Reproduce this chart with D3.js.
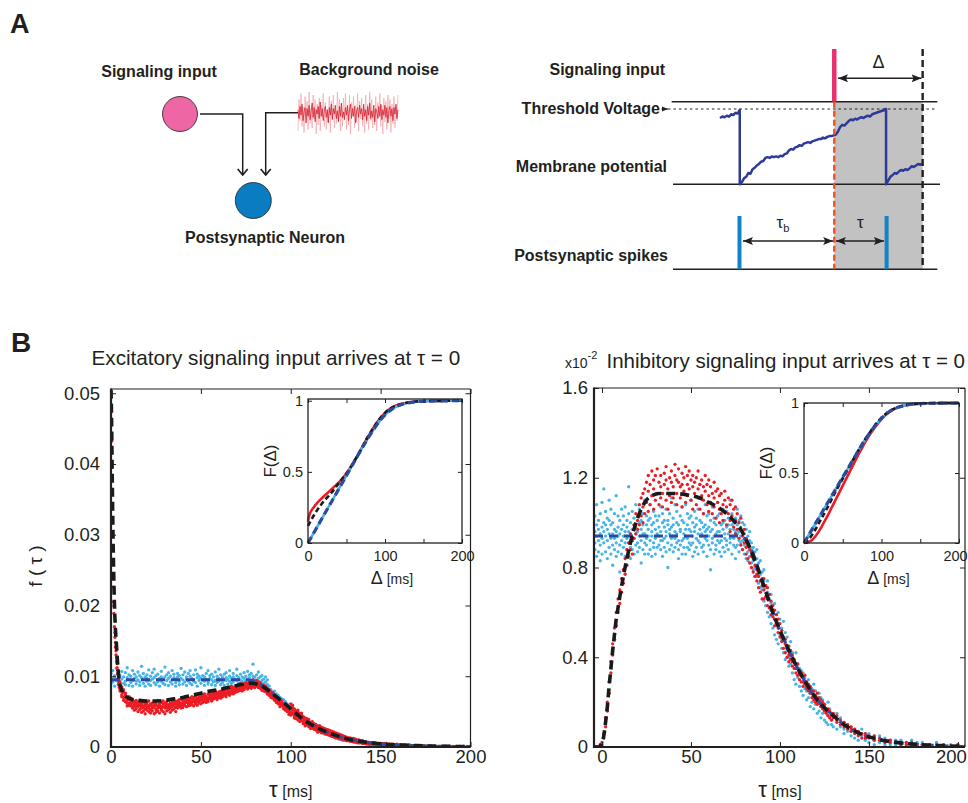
<!DOCTYPE html>
<html>
<head>
<meta charset="utf-8">
<script src="https://cdn.jsdelivr.net/npm/d3@7"></script>
<style>
  body { margin: 0; background: #fff; }
  svg { display: block; }
  svg text { font-family: "Liberation Sans", Arial, Helvetica, sans-serif; fill: #231f20; }
</style>
</head>
<body>
<svg id="fig" width="968" height="803"></svg>
<script>
// ================= DATA =================

// Panel A: background noise sample (arbitrary units)
const noiseCore = [0.3,-0.5,0.6,-0.2,0.8,-0.7,0.1,0.5,-0.9,0.4,-0.3,0.7,-0.6,0.2,0.9,-0.4,0.5,-0.8,0.3,-0.1,0.6,-0.5,1.0,-0.3,0.4,-0.7,0.2,0.6,-0.4,0.3,-0.9,0.5,-0.2,0.8,-0.6,0.4,-0.1,0.7,-0.5,0.2,-0.8,0.6,-0.3,0.9,-0.4,0.1,-0.6,0.5,-0.2,0.7,-0.7,0.3,0.8,-0.5,0.4,-0.3,0.6,-0.9,0.2,0.5,-0.4,0.7,-0.1,0.4,-0.6,0.8,-0.3,0.3,-0.7,0.6,-0.2,0.9,-0.5,0.2,-0.4,0.7,-0.8,0.4,0.1,-0.5,0.6,-0.3,0.8,-0.6,0.3,-0.2,0.7,-0.4,0.5,-0.9,0.2,0.6,-0.3,0.4,-0.7,0.5,-0.1,0.8,-0.5,0.3];
const noiseHalo = [-1.2,0.9,-0.5,1.3,-0.9,0.4,-1.3,1.1,-0.2,0.8,-1.1,1.4,-0.7,0.3,-1.0,1.2,-0.4,0.9,-1.4,0.6,-0.8,1.0,-1.2,0.5,-0.3,1.3,-0.9,0.7,-1.1,0.2,-0.6,1.1,-1.3,0.8,-0.4,1.2,-1.0,0.3,-0.7,1.4,-0.5,0.9,-1.2,0.6,-0.9,1.0,-0.3,1.3,-1.1,0.4,-0.8,1.2,-1.4,0.7,-0.2,1.1,-1.0,0.5,-0.6,1.3,-1.2,0.8,-0.4,1.0,-0.9,0.3,-1.3,1.2,-0.7,0.6,-1.1,1.4,-0.5,0.9,-1.0,0.2,-0.8,1.1,-1.2,0.7,-0.3,1.3,-0.9,0.5,-1.4,1.0,-0.6,0.8,-1.1,1.2,-0.4,0.9,-1.3,0.6,-0.7,1.1,-1.0,0.4,-0.5,1.2];

// Panel A: timing scheme (time in arbitrary ms, voltage 0 = reset, 1 = threshold)
const tSignal = 60.4, tWindowEnd = 93.5;
const spikeTimes = [24.9, 80.0];
const membrane = [[17.6,0.88],[18.5,0.9],[19.3,0.89],[20.2,0.91],[21,0.9],[21.8,0.93],[22.6,0.92],[23.4,0.95],[24.2,0.94],[25,0.99],[25,0],
 [25.8,0.03],[26.6,0.08],[27.4,0.1],[28.2,0.15],[29,0.14],[29.8,0.2],[30.6,0.22],[31.4,0.25],[32.2,0.27],[33,0.3],[33.8,0.31],[34.6,0.35],[35.4,0.36],[36.2,0.35],[37,0.37],[37.8,0.36],[38.6,0.37],[39.4,0.36],[40.2,0.38],[41,0.37],[41.8,0.4],[42.6,0.41],[43.4,0.45],[44.2,0.47],[45,0.46],[45.8,0.49],[46.6,0.5],[47.4,0.52],[48.2,0.51],[49,0.54],[49.8,0.55],[50.6,0.56],[51.4,0.55],[52.2,0.57],[53,0.58],[53.8,0.59],[54.6,0.6],[55.4,0.6],[56.2,0.62],[57,0.61],[57.8,0.63],[58.6,0.64],[59.4,0.64],[60.2,0.65],[61,0.66],[61.8,0.7],[62.6,0.76],[63.4,0.79],[64.2,0.78],[65,0.81],[65.8,0.84],[66.6,0.86],[67.4,0.85],[68.2,0.87],[69,0.86],[69.8,0.88],[70.6,0.89],[71.4,0.88],[72.2,0.9],[73,0.91],[73.8,0.9],[74.6,0.93],[75.4,0.94],[76.2,0.95],[77,0.96],[77.8,0.97],[78.6,0.98],[79.8,1.0],[79.8,0],
 [80.6,0.05],[81.4,0.1],[82.2,0.12],[83,0.15],[83.8,0.14],[84.6,0.17],[85.4,0.19],[86.2,0.18],[87,0.2],[87.8,0.19],[88.6,0.21],[89.4,0.24],[90.2,0.23],[91,0.25],[91.8,0.27],[92.6,0.26],[93.2,0.27]];

// Panel B, excitatory input: f(τ) in units of 1e-4; rows are [τ (ms), values...]
const excSimNoise = [
 [0,97,89,104],[1,92,108],[2,99,86,101],[3,94,111],[4,88,97,103],[5,101,92],[6,96,85,107],[7,90,99],[8,105,93,88],[9,98,112],
 [10,87,95,102],[11,100,91],[12,94,108,86],[13,97,103],[14,89,99,93],[15,106,95],[16,92,87,101],[17,98,114],[18,95,90,104],[19,86,99],
 [20,102,93,97],[21,109,89],[22,94,100,87],[23,96,105],[24,91,98,110],[25,88,101],[26,103,95,92],[27,97,86],[28,107,93,99],[29,90,96],
 [30,99,113,88],[31,94,102],[32,87,97,105],[33,100,92],[34,95,108,89],[35,98,103],[36,91,96,86],[37,104,99],[38,93,88,101],[39,97,111],
 [40,89,95,102],[41,106,92],[42,96,87,99],[43,93,104],[44,100,90,108],[45,88,97],[46,95,102,93],[47,109,91],[48,98,86,103],[49,94,100],
 [50,90,97,112],[51,101,95],[52,87,99,93],[53,104,96],[54,92,108,89],[55,97,101],[56,95,88,103],[57,99,92],[58,106,94,87],[59,91,100],
 [60,97,110,93],[61,88,102],[62,95,99,91],[63,103,87],[64,94,105,98],[65,89,96],[66,100,93,108],[67,97,90],[68,92,104,99],[69,96,87],
 [70,101,94,110],[71,90,98],[72,95,103,88],[73,99,93],[74,105,97,91],[75,94,100],[76,89,96,107],[77,98,102],[78,93,88,104],[79,100,96,117],
 [80,95,91,99],[81,102,88],[82,97,93,106],[83,91,99],[84,94,87,101],[85,96,90],[86,92,85,99],[87,88,95],
 [88,86,78],[89,81,74],[90,77,70],[91,79,72],[92,70,75],[93,73,66],[94,64,70],[95,68,61],[96,62,67],[97,58,64],[98,61,55],[99,56,51],
 [100,52,58],[101,55,48],[102,47,53],[103,50,44],[104,46,41],[105,43,48],[106,39,45],[107,42,36],[108,37,40],[109,33,38],
 [110,35,31],[111,30,34],[112,32,28],[113,27,31],[114,29,25],[115,26,30],[116,23,27],[117,25,21],[118,20,24],[119,22,18],
 [120,19,23],[121,21,17],[122,16,20],[123,18,15],[124,14,17],[125,16,13],[126,12,15],[127,14,11],[128,11,13],[129,12,9],
 [130,10,13],[132,9,11],[134,8,10],[136,7,9],[138,6,8],[140,5,7],[142,6,4],[144,4,6],[146,3,5],[148,4,3],
 [150,3,5],[153,2,4],[156,3,2],[159,2,3],[162,1,2],[165,2,1],[168,1,2],[171,1,0],[174,1,1],[177,0,1],[180,1,0],[184,0,1],[188,1,0],[192,0,1],[196,0,0],[200,0]
];
const excSimSignal = [
 [0.2,474],[0.3,432],[0.4,395],[0.5,344],[0.8,300],[1.0,262],[1.2,226],[1.4,205],[1.6,189],[1.9,170],[2.2,155,162],[2.5,141,148],[2.8,130,136],[3.1,121,126],[3.4,112,118],[3.7,104,109],[4.0,97,102,108],[4.3,92,98,89],[4.6,88,93,84],
 [5,86,79,91,82],[6,80,74,85,71],[7,70,77,66,81],[8,73,64,69,76],[9,62,70,66,58],[10,67,59,71,62],[11,58,65,61,69],[12,63,55,67,58],[13,60,52,64,57],[14,54,62,58,66],
 [15,57,63,50,60],[16,61,53,58,65],[17,55,62,49,59],[18,58,51,64,56],[19,62,54,47,59],[20,56,63,52,60],[21,50,58,65,55],[22,59,53,61,48],[23,55,62,57,51],[24,60,47,56,64],
 [25,53,59,62,49],[26,58,51,55,66],[27,61,56,48,59],[28,54,63,57,52],[29,57,50,61,65],[30,62,55,58,47],[31,56,64,51,60],[32,60,53,66,57],[33,58,62,49,55],[34,63,57,61,52],
 [35,59,66,54,62],[36,61,56,64,50],[37,65,58,62,55],[38,57,63,67,60],[39,62,55,59,68],[40,66,60,63,56],[41,59,68,62,64],[42,63,57,66,70],[43,67,61,58,64],[44,62,69,65,59],
 [45,68,63,60,71],[46,64,70,58,66],[47,61,67,72,63],[48,69,64,59,66],[49,65,71,62,68],[50,70,66,74,61],[51,67,63,72,69],[52,64,71,68,75],[53,72,66,63,70],[54,69,75,67,64],
 [55,73,68,71,77],[56,66,74,70,65],[57,71,77,68,73],[58,75,69,72,79],[59,70,76,73,67],[60,78,72,75,70],[61,73,79,69,76],[62,76,71,80,74],[63,79,73,77,82],[64,74,81,76,71],
 [65,80,75,78,84],[66,77,83,73,79],[67,82,76,80,86],[68,78,84,81,75],[69,85,79,83,77],[70,81,87,78,84],[71,84,79,88,82],[72,80,86,83,90],[73,87,82,85,79],[74,83,89,86,81],
 [75,88,84,91,86],[76,85,90,82,87],[77,89,84,92,86],[78,86,93,88,83],[79,90,85,95,88],[80,87,92,84,89],[81,91,86,88,94],[82,84,89,92,87],[83,88,83,86,91],[84,85,80,88,83],
 [85,82,87,79,84],[86,78,84,81,86],[87,80,75,83,77],[88,76,81,73,79],[89,72,78,75,70],[90,74,69,77,71],[91,70,66,73,68],[92,67,71,63,69],[93,64,68,61,66],[94,60,65,62,57],
 [95,62,58,65,60],[96,57,61,54,59],[97,59,52,57,55],[98,50,55,53,57],[99,49,54,51,46],
 [100,61,49,55,45],[101,47,56,52,59],[102,54,44,50,41],[103,43,51,40,48],[104,49,46,38,52],[105,40,47,36,44],[106,45,37,42,48],[107,36,43,33,40],[108,41,34,38,30],[109,31,37,40,34],
 [110,36,29,33,39],[111,28,35,31,26],[112,33,27,31,36],[113,25,31,28,33],[114,30,24,27,32],[115,29,23,26,21],[116,22,27,25,30],[117,26,20,23,28],[118,20,25,22,27],[119,24,19,21,26],
 [120,18,23,20,25],[121,22,17,19,24],[122,21,16,19,23],[123,15,20,17,22],[124,19,14,18,21],[125,15,18,13,20],[126,17,13,16,19],[127,12,16,14,18],[128,15,11,13,17],[129,14,11,12,16],
 [130,10,14,12,15],[131,13,9,11,14],[132,12,9,10,13],[133,8,12,10,13],[134,11,8,10,12],[135,10,7,9,12],[136,7,10,8,11],[137,9,6,8,10],[138,6,9,7,10],[139,8,6,7,9],
 [140,6,8,5,9],[141,7,5,6],[142,6,5,7],[143,6,4,7],[144,5,6,4],[145,6,4,5],[146,5,4,6],[147,4,5,6],[148,5,3,4],[149,4,5,3],
 [150,4,5,3],[151,5,3,4],[152,4,3,5],[153,3,4,5],[154,4,3],[155,3,4,2],[156,3,4],[157,2,3,4],[158,3,2],[159,3,2,4],
 [160,2,3],[161,3,2],[162,2,3,1],[163,2,3],[164,2,1,3],[165,2,1],[166,1,2,3],[167,2,1],[168,1,2],[169,2,1],
 [170,1,2],[172,1,2,1],[174,1,2],[176,1,1,0],[178,1,0],[180,1,1],[182,0,1],[184,1,0],[186,1,1],[188,0,1],[190,1,0],[192,0,1],[194,1,0],[196,0,1],[198,0,1],[200,0,0]
];
const excFit = [[0,505],[0.3,465],[0.6,400],[1,320],[1.5,245],[2,195],[2.5,165],[3,145],[3.5,125],[4,108],[4.5,96],[5,88],[6,80],[7,75],[8,72],[10,69],[12,67],[15,66],[20,65],[25,65],[30,66],[35,68],[40,70],[45,73],[50,76],[55,79],[60,81],[65,84],[70,87],[75,89],[78,90],[81,89],[84,86],[87,81],[90,75],[95,65],[100,54],[105,43],[110,34],[115,27],[120,21],[125,16.5],[130,12.5],[135,9.5],[140,7.5],[145,5.8],[150,4.5],[160,3],[170,2],[180,1.2],[190,0.8],[200,0.5]];
const excBaseline = [[0,95],[75,95],[78,94],[81,91],[84,87],[87,81],[90,75],[95,65],[100,54],[105,43],[110,34],[115,27],[120,21],[125,16.5],[130,12.5],[135,9.5],[140,7.5],[145,5.8],[150,4.5],[160,3],[170,2],[180,1.2],[190,0.8],[200,0.5]];
// cumulative F(Δ), in percent
const excCdfSim = [[0,15],[1,18],[2,20],[4,22.5],[6,24],[10,27],[15,30],[20,32.5],[25,35],[30,37.5],[35,40],[40,42.5],[45,45.5],[50,49],[55,53],[60,57.5],[65,62],[70,67],[75,72],[80,76.5],[85,81],[90,85],[95,88.5],[100,91.5],[110,95.5],[120,97.5],[130,98.8],[140,99.4],[160,99.8],[200,100]];
const excCdfFit = [[0,12],[2,14],[5,17],[10,21.5],[15,25.5],[20,29],[25,32],[30,35],[35,38.5],[40,42],[45,45.5],[50,49],[55,53],[60,57.5],[65,62],[70,67],[75,72],[80,76.5],[85,81],[90,85],[95,88.5],[100,91.5],[110,95.5],[120,97.5],[130,98.8],[140,99.4],[160,99.8],[200,100]];
const excCdfNoise = [[0,0],[10,9.5],[20,19],[30,28.5],[40,38],[50,47.5],[60,57],[65,61.8],[70,66.5],[75,71],[80,75.5],[85,79.5],[90,83.5],[95,87],[100,90],[110,94.5],[120,97],[130,98.5],[140,99.3],[160,99.8],[200,100]];

// Panel B, inhibitory input: f(τ) in units of 1e-4 (axis shown as x10^-2); rows are [τ (ms), values...]
const inhSimNoise = [
 [-4,96,88,103,91],[-3,85,99,94,108],[-2,92,101,87,97],[-1,104,90,95,83],[0,98,86,109,93],[1,91,100,96,115],[2,87,94,105,99],[3,102,92,84,97],[4,95,110,89,101],[5,93,86,99,106],
 [6,100,95,90,81],[7,88,104,97,93],[8,96,91,112,85],[9,103,98,87,94],[10,90,101,95,78],[11,97,86,106,92],[12,94,99,89,103],[13,85,107,96,91],[14,101,93,88,98],[15,96,104,91,116],
 [16,89,95,100,84],[17,105,92,97,88],[18,93,99,86,102],[19,98,90,108,95],[20,87,96,103,91],[21,100,94,89,106],[22,92,101,97,82],[23,104,88,95,99],[24,95,91,110,86],[25,99,103,93,90],
 [26,86,97,101,94],[27,102,92,88,108],[28,94,99,96,85],[29,91,105,89,100],[30,97,86,103,93],[31,89,101,95,113],[32,103,94,90,98],[33,96,88,107,92],[34,92,100,85,104],[35,98,93,101,89],
 [36,87,106,96,94],[37,101,91,99,80],[38,95,104,88,97],[39,90,98,93,111],[40,99,87,102,94],[41,93,96,108,89],[42,105,91,95,100],[43,88,99,92,84],[44,97,103,90,96],[45,92,86,101,107],
 [46,100,95,89,93],[47,94,108,97,86],[48,89,93,104,99],[49,102,97,88,91],[50,96,90,110,103],[51,91,100,94,85],[52,98,87,96,105],[53,93,102,89,99],[54,86,95,106,92],[55,101,97,91,117],
 [56,95,89,100,94],[57,90,104,87,98],[58,99,93,96,108],[59,92,85,103,97],[60,104,98,90,94],[61,88,96,101,79],[62,97,91,107,93],[63,94,100,86,102],[64,90,95,99,88],[65,103,92,96,109],
 [66,96,87,104,91],[67,92,99,94,85],[68,100,106,89,97],[69,87,93,101,95],[70,98,90,105,92],[71,95,102,88,99],[72,91,97,93,110],[73,99,86,104,94],[74,93,100,90,97],[75,96,89,102,84],
 [76,90,95,99,106],[77,101,92,87,96],[78,94,98,91,103],[79,88,96,100,92],[80,95,90,86,99],[81,91,97,84,93],[82,87,94,90,83],[83,92,85,89,96],[84,86,91,82,88],[85,89,83,86,79],
 [86,84,80,87,76],[87,81,76,84,88],[88,77,82,73,79],
 [89,83,71,77],[90,70,78],[91,74,65,79],[92,63,71],[93,69,74,60],[94,66,58],[95,55,64,68],[96,61,53],[97,57,64,50],[98,48,59],[99,54,46,60],
 [100,50,57],[101,44,53,48],[102,56,42],[103,47,39,51],[104,43,49],[105,36,45,40],[106,47,37],[107,33,42,39],[108,38,30],[109,42,35,28],
 [110,31,37],[111,27,35,32],[112,34,25],[113,29,23,33],[114,26,31],[115,21,29,25],[116,30,22],[117,24,18,27],[118,20,26],[119,23,17,28],
 [120,19,25],[121,15,22,20],[122,24,16],[123,18,13,22],[124,21,15],[125,12,19,17],[126,16,11],[127,20,14,10],[128,13,17],[129,10,15,12],
 [130,14,9],[132,12,8,15],[134,9,13],[136,11,6,8],[138,7,10],[140,9,5,7],[142,4,8],[144,7,3,6],[146,5,8],[148,3,6,4],
 [150,6,2],[153,5,3,1],[156,2,5],[159,4,1,3],[162,1,3],[165,3,2,1],[168,1,3],[171,2,0],[174,1,3],[177,0,2],[180,1,2],[184,0,1],[188,1,2],[192,0,1],[196,1,0],[200,0,1]
];
const inhSimSignal = [
 [-4,0],[-3,0],[-2,0],[-1,1],[0,2,1],[1,4,6],[2,9,13],[3,16,20],[4,24,29],[5,33,38],[6,41,46],[7,48,53],[8,54,60],[9,60,66],[10,64,70],
 [11,69,75],[12,73,79],[13,77,84],[14,81,88],[15,85,91],[16,88,95],[17,92,86],[18,99,93],[19,95,104],[20,101,97],
 [21,108,99],[22,103,111],[23,107,113,100],[24,115,104],[25,109,118],[26,105,114,121],[27,117,108],[28,112,123],[29,119,106,115],[30,110,121],
 [31,124,113],[32,108,118],[33,116,121,111],[34,113,107],[35,122,117],[36,110,119,125],[37,115,106],[38,120,112],[39,109,118,123],[40,116,111],
 [41,121,126],[42,113,108,119],[43,118,124],[44,111,116],[45,122,107,117],[46,114,120],[47,109,125],[48,117,112,121],[49,123,115],[50,110,119],
 [51,116,106,121],[52,113,118],[53,120,108],[54,115,111,123],[55,106,117],[56,119,112],[57,110,116,104],[58,114,121],[59,108,117],[60,112,105,119],
 [61,116,109],[62,104,113],[63,111,118,107],[64,102,114],[65,109,115],[66,106,100,112],[67,113,104],[68,101,108],[69,110,105,114],[70,99,107],
 [71,104,111],[72,108,101,96],[73,103,110],[74,98,106],[75,101,95,107],[76,104,97],[77,93,100],[78,97,102,90],[79,94,88],[80,91,97],
 [81,86,93,89],[82,90,84],[83,82,88],[84,85,80,87],[85,78,84],[86,81,76],[87,74,79,77],[88,76,71],[89,69,74],[90,72,66,75],
 [91,70,75,66],[92,67,72],[93,71,63,66],[94,62,68],[95,65,59,61],[96,58,63],[97,61,54,57],[98,55,59],[99,51,57,53],
 [100,55,49],[101,47,52,50],[102,49,44],[103,46,42,48],[104,44,40],[105,41,45,38],[106,43,39],[107,36,41,38],[108,39,35],[109,33,37,35],
 [110,37,32],[111,30,34,33],[112,33,29],[113,31,27,29],[114,28,32],[115,26,29,27],[116,28,25],[117,24,26,27],[118,22,25],[119,25,21,23],
 [120,23,20],[121,21,24,19],[122,20,22],[123,18,21,19],[124,17,20],[125,19,16,18],[126,15,17],[127,17,14,16],[128,13,16],[129,15,12,14],
 [130,13,15],[132,11,14,12],[134,12,10],[136,9,11,10],[138,10,8],[140,7,9,8],[142,8,6],[144,5,7,6],[146,6,4],[148,5,6,4],
 [150,4,5],[153,4,3,5],[156,3,4],[159,3,2],[162,3,2],[165,2,2],[168,2,1],[171,2,1],[174,1,2],[177,1],[180,1,1],[184,1],[188,1,0],[192,0,1],[196,0],[200,0,1]
];
const inhFit = [[-4.5,0],[-2,0],[0,2],[1,5],[2,11],[3,18],[4,27],[5,35],[6,43],[7,50],[8,57],[9,62],[10,67],[12,76],[14,84],[16,91],[18,97],[20,102],[22,106],[24,109],[26,111],[28,112],[32,113],[40,113],[50,112],[55,111],[60,109],[65,107],[70,104],[75,100],[78,97],[80,94],[83,89],[86,83],[90,74],[93,67],[96,60],[100,52],[105,43],[110,35],[115,28],[120,22],[125,17.5],[130,14],[135,10.5],[140,8],[145,6],[150,4.5],[155,3.5],[160,2.7],[170,1.6],[180,1],[190,0.6],[200,0.3],[204,0.2]];
const inhBaseline = [[-4.5,94],[78,94],[80,93],[82,91],[84,88],[86,84],[88,79],[90,74],[93,67],[96,60],[100,52],[105,43],[110,35],[115,28],[120,22],[125,17.5],[130,14],[135,10.5],[140,8],[145,6],[150,4.5],[155,3.5],[160,2.7],[170,1.6],[180,1],[190,0.6],[200,0.3],[204,0.2]];
const inhCdfSim = [[0,0],[5,0.5],[10,2],[15,5],[20,9],[25,14],[30,19],[35,24.5],[40,30],[45,35.5],[50,41],[55,46.5],[60,52],[65,57.5],[70,63],[75,68],[80,73],[85,77.5],[90,81.5],[95,85],[100,88.5],[110,93.5],[120,96.5],[130,98.2],[140,99.1],[160,99.8],[200,100]];
const inhCdfFit = [[0,0],[5,2],[10,5.5],[15,10],[20,15],[25,20],[30,25],[35,30.5],[40,36],[45,41],[50,46],[55,51],[60,56],[65,61],[70,66],[75,70.5],[80,75],[85,79],[90,83],[95,86.5],[100,89.5],[110,94],[120,96.8],[130,98.3],[140,99.2],[160,99.8],[200,100]];
const inhCdfNoise = [[0,0],[10,9.4],[20,18.8],[30,28.2],[40,37.6],[50,47],[60,56.4],[70,65.8],[75,70.5],[80,74.8],[85,78.8],[90,82.5],[95,86],[100,89],[110,93.8],[120,96.7],[130,98.3],[140,99.2],[160,99.8],[200,100]];

// Tick values
const tauTicks = [0, 50, 100, 150, 200];
const excYTicks = [0, 0.01, 0.02, 0.03, 0.04, 0.05];
const inhYTicks = [0, 0.4, 0.8, 1.2, 1.6];
const cdfYTicks = [0, 0.5, 1];

// ================= DRAWING =================
const ink = "#231f20";
const cRed = "#ed1c24", cSky = "#45b4e6", cNavy = "#2d4b9e", cBlack = "#1a1a1a";
const svg = d3.select("#fig");
const defs = svg.append("defs");

defs.append("marker").attr("id", "headFill").attr("viewBox", "0 0 10 8")
  .attr("refX", 10).attr("refY", 4).attr("markerWidth", 10).attr("markerHeight", 8)
  .attr("markerUnits", "userSpaceOnUse").attr("orient", "auto-start-reverse")
  .append("path").attr("d", "M0,0 L10,4 L0,8 L2,4 Z").attr("fill", ink);
defs.append("marker").attr("id", "headSmall").attr("viewBox", "0 0 6 6")
  .attr("refX", 6).attr("refY", 3).attr("markerWidth", 6).attr("markerHeight", 6)
  .attr("markerUnits", "userSpaceOnUse").attr("orient", "auto")
  .append("path").attr("d", "M0,0.5 L6,3 L0,5.5 Z").attr("fill", ink);
defs.append("marker").attr("id", "chevron").attr("viewBox", "0 0 8 12")
  .attr("refX", 7).attr("refY", 6).attr("markerWidth", 8).attr("markerHeight", 12)
  .attr("markerUnits", "userSpaceOnUse").attr("orient", "auto")
  .append("path").attr("d", "M1,1 L7,6 L1,11").attr("fill", "none").attr("stroke", ink).attr("stroke-width", 1.7);

// Panel letters
svg.append("text").attr("x", 10).attr("y", 33).attr("font-size", 27).attr("font-weight", "bold").text("A");
svg.append("text").attr("x", 11).attr("y", 352).attr("font-size", 28).attr("font-weight", "bold").text("B");

// ---------- Panel A, left: circuit ----------
(function circuit() {
  const g = svg.append("g");
  const bold = (x, y, s) => g.append("text").attr("x", x).attr("y", y).attr("text-anchor", "middle")
      .attr("font-size", 16).attr("font-weight", "bold").text(s);
  bold(159, 77, "Signaling input");
  bold(369, 75, "Background noise");
  bold(265, 243, "Postsynaptic Neuron");

  // noise trace
  const nx = d3.scaleLinear([0, noiseCore.length - 1], [298, 398]);
  const ny = d3.scaleLinear([-1, 1], [124, 102]);
  const nyHalo = d3.scaleLinear([-1, 1], [128, 98]);
  g.append("path").attr("d", d3.line().x((d, i) => nx(i)).y(d => nyHalo(d))(noiseHalo))
    .attr("fill", "none").attr("stroke", "#f3a6ab").attr("stroke-width", 0.7);
  g.append("path").attr("d", d3.line().x((d, i) => nx(i)).y(d => ny(d))(noiseCore))
    .attr("fill", "none").attr("stroke", "#d4202e").attr("stroke-width", 0.8);

  // connections
  g.append("path").attr("d", "M200,114 H242.7 V175").attr("fill", "none").attr("stroke", ink)
    .attr("stroke-width", 1.5).attr("marker-end", "url(#chevron)");
  g.append("path").attr("d", "M298,112.7 H265.7 V175").attr("fill", "none").attr("stroke", ink)
    .attr("stroke-width", 1.5).attr("marker-end", "url(#chevron)");

  g.append("circle").attr("cx", 180).attr("cy", 114).attr("r", 17.5)
    .attr("fill", "#ee66a3").attr("stroke", ink).attr("stroke-width", 0.8);
  g.append("circle").attr("cx", 253.3).attr("cy", 200.5).attr("r", 18)
    .attr("fill", "#0a7cc1").attr("stroke", ink).attr("stroke-width", 0.8);
})();

// ---------- Panel A, right: timing scheme ----------
(function timing() {
  const g = svg.append("g");
  const t = d3.scaleLinear([0, 100], [673, 940]);
  const v = d3.scaleLinear([0, 1], [184.3, 109]);
  const row = { sigTop: 49, upper: 101.7, spikeTop: 216, base: 269.3, deltaY: 78.3, tauY: 241 };

  g.append("rect").attr("x", t(tSignal)).attr("y", row.upper)
    .attr("width", t(tWindowEnd) - t(tSignal)).attr("height", row.base - row.upper).attr("fill", "#c2c2c2");

  const hline = (y, t0, t1, extra) => {
    const l = g.append("line").attr("x1", t(t0)).attr("x2", t(t1)).attr("y1", y).attr("y2", y)
      .attr("stroke", ink).attr("stroke-width", 1.4);
    if (extra) extra(l);
  };
  hline(row.upper, -0.5, 99);
  hline(v(0), 0, 100);
  hline(row.base, 0, 99);
  hline(v(1), -1.9, 99, l => l.attr("stroke-width", 1.1).attr("stroke-dasharray", "2.5,3"));

  g.append("path").attr("d", d3.line().x(d => t(d[0])).y(d => v(d[1]))(membrane))
    .attr("fill", "none").attr("stroke", "#2e3a98").attr("stroke-width", 2.5).attr("stroke-linejoin", "round");

  // signaling input and window boundaries
  g.append("line").attr("x1", t(tSignal)).attr("x2", t(tSignal)).attr("y1", row.sigTop).attr("y2", row.upper)
    .attr("stroke", "#e6336d").attr("stroke-width", 4.5);
  g.append("line").attr("x1", t(tSignal)).attr("x2", t(tSignal)).attr("y1", row.upper).attr("y2", row.base)
    .attr("stroke", "#f05223").attr("stroke-width", 2.4).attr("stroke-dasharray", "6,3");
  g.append("line").attr("x1", t(tWindowEnd)).attr("x2", t(tWindowEnd)).attr("y1", row.sigTop).attr("y2", row.base)
    .attr("stroke", ink).attr("stroke-width", 2.4).attr("stroke-dasharray", "7,4");

  // postsynaptic spikes
  g.selectAll(".spk").data(spikeTimes).join("line").attr("class", "spk")
    .attr("x1", d => t(d)).attr("x2", d => t(d)).attr("y1", row.spikeTop).attr("y2", row.base)
    .attr("stroke", "#1084c8").attr("stroke-width", 4);

  // interval arrows
  const arrow = (t0, t1, y) => g.append("line").attr("x1", t(t0)).attr("x2", t(t1)).attr("y1", y).attr("y2", y)
    .attr("stroke", ink).attr("stroke-width", 1.5)
    .attr("marker-start", "url(#headFill)").attr("marker-end", "url(#headFill)");
  arrow(tSignal + 1.4, tWindowEnd - 0.4, row.deltaY);
  arrow(spikeTimes[0] + 1.3, tSignal - 0.4, row.tauY);
  arrow(tSignal + 0.6, spikeTimes[1] - 1.0, row.tauY);

  g.append("text").attr("x", t((tSignal + tWindowEnd) / 2)).attr("y", 68).attr("text-anchor", "middle")
    .attr("font-size", 18).text("Δ");
  const tb = g.append("text").attr("x", t((spikeTimes[0] + tSignal) / 2) - 4).attr("y", 228).attr("text-anchor", "middle")
    .attr("font-size", 17);
  tb.append("tspan").text("τ");
  tb.append("tspan").attr("font-size", 11).attr("dy", 4).text("b");
  g.append("text").attr("x", t((tSignal + spikeTimes[1]) / 2)).attr("y", 228).attr("text-anchor", "middle")
    .attr("font-size", 17).text("τ");

  // row labels
  const lab = (x, y, s) => g.append("text").attr("x", x).attr("y", y).attr("text-anchor", "end")
    .attr("font-size", 16).attr("font-weight", "bold").text(s);
  lab(665, 75, "Signaling input");
  lab(660, 114, "Threshold Voltage");
  lab(667, 172, "Membrane potential");
  lab(668, 261, "Postsynaptic spikes");
  g.append("line").attr("x1", 661.5).attr("x2", 668).attr("y1", v(1)).attr("y2", v(1))
    .attr("stroke", ink).attr("stroke-width", 1).attr("marker-end", "url(#headSmall)");
})();

// ---------- Panel B helpers ----------
function styleAxis(sel, size) {
  sel.select(".domain").remove();
  sel.attr("font-size", size);
  sel.selectAll(".tick line").attr("stroke", ink).attr("stroke-width", 1);
  sel.selectAll(".tick text").attr("fill", ink);
}
// pull the last x label inward when it would run past the page edge
function fitLastLabel(sel, dx) {
  sel.selectAll(".tick text").filter(d => d === 200).attr("dx", -dx);
}

let clipId = 0;
function mainPanel(o) {
  const g = svg.append("g");
  const x = d3.scaleLinear(o.xDomain, [o.left, o.right]);
  const y = d3.scaleLinear(o.yDomain, [o.bottom, o.top]);
  const id = "clip" + (clipId++);
  defs.append("clipPath").attr("id", id).append("rect")
    .attr("x", o.left).attr("y", o.top).attr("width", o.right - o.left).attr("height", o.bottom - o.top);
  const plot = g.append("g").attr("clip-path", `url(#${id})`);
  const pts = rows => rows.flatMap(([tt, ...vs]) => vs.map(val => [tt, val * o.unit]));

  plot.append("g").selectAll("circle").data(pts(o.noiseDots)).join("circle")
    .attr("cx", d => x(d[0])).attr("cy", d => y(d[1])).attr("r", 1.65).attr("fill", cSky);
  plot.append("g").selectAll("circle").data(pts(o.signalDots)).join("circle")
    .attr("cx", d => x(d[0])).attr("cy", d => y(d[1])).attr("r", 1.65).attr("fill", cRed);

  const line = d3.line().x(d => x(d[0])).y(d => y(d[1] * o.unit)).curve(d3.curveMonotoneX);
  plot.append("path").attr("d", line(o.baseline)).attr("fill", "none")
    .attr("stroke", cNavy).attr("stroke-width", 3).attr("stroke-dasharray", "9,6");
  plot.append("path").attr("d", line(o.fit)).attr("fill", "none")
    .attr("stroke", cBlack).attr("stroke-width", 3.6).attr("stroke-dasharray", "9,5");

  // axes with inward ticks on all four sides
  g.append("g").attr("transform", `translate(0,${o.bottom})`)
    .call(d3.axisBottom(x).tickValues(tauTicks).tickSize(-5).tickPadding(3).tickFormat(d3.format("d")))
    .call(s => styleAxis(s, 18.5)).call(s => fitLastLabel(s, o.lastShift));
  g.append("g").attr("transform", `translate(0,${o.top})`)
    .call(d3.axisTop(x).tickValues(tauTicks).tickSize(-5).tickFormat(() => ""))
    .call(s => styleAxis(s, 18.5));
  g.append("g").attr("transform", `translate(${o.left},0)`)
    .call(d3.axisLeft(y).tickValues(o.yTicks).tickSize(-5).tickPadding(o.yPad).tickFormat(o.yFmt))
    .call(s => styleAxis(s, 18.5));
  g.append("g").attr("transform", `translate(${o.right},0)`)
    .call(d3.axisRight(y).tickValues(o.yTicks).tickSize(-5).tickFormat(() => ""))
    .call(s => styleAxis(s, 18.5));

  // box: heavier left and bottom
  g.append("line").attr("x1", o.left).attr("x2", o.right).attr("y1", o.top).attr("y2", o.top).attr("stroke", ink).attr("stroke-width", 1.2);
  g.append("line").attr("x1", o.right).attr("x2", o.right).attr("y1", o.top).attr("y2", o.bottom).attr("stroke", ink).attr("stroke-width", 1.2);
  g.append("line").attr("x1", o.left).attr("x2", o.right).attr("y1", o.bottom).attr("y2", o.bottom).attr("stroke", ink).attr("stroke-width", 2.2);
  g.append("line").attr("x1", o.left).attr("x2", o.left).attr("y1", o.top - 0.6).attr("y2", o.bottom + 1).attr("stroke", ink).attr("stroke-width", 2.2);

  // x label
  const xl = g.append("text").attr("x", (x(0) + x(200)) / 2).attr("y", 797).attr("text-anchor", "middle");
  xl.append("tspan").attr("font-size", 22).text("τ");
  xl.append("tspan").attr("font-size", 16).text(" [ms]");
  return g;
}

function insetPanel(o) {
  const g = svg.append("g");
  const x = d3.scaleLinear([0, 200], [o.left, o.right]);
  const y = d3.scaleLinear([0, o.yMax], [o.bottom, o.top]);
  g.append("rect").attr("x", o.left).attr("y", o.top).attr("width", o.right - o.left)
    .attr("height", o.bottom - o.top).attr("fill", "#fff");
  const line = d3.line().x(d => x(d[0])).y(d => y(d[1] / 100)).curve(d3.curveMonotoneX);
  g.append("path").attr("d", line(o.sim)).attr("fill", "none").attr("stroke", cRed).attr("stroke-width", 2.6);
  g.append("path").attr("d", line(o.noise)).attr("fill", "none").attr("stroke", cSky).attr("stroke-width", 2.6);
  g.append("path").attr("d", line(o.fit)).attr("fill", "none").attr("stroke", cBlack)
    .attr("stroke-width", 2.6).attr("stroke-dasharray", "5,3");
  g.append("path").attr("d", line(o.noise)).attr("fill", "none").attr("stroke", cNavy)
    .attr("stroke-width", 3.2).attr("stroke-dasharray", "7,4");

  const fmtX = d => (d % 100 === 0 ? d : "");
  g.append("g").attr("transform", `translate(0,${o.bottom})`)
    .call(d3.axisBottom(x).tickValues(tauTicks).tickSize(-4).tickPadding(8).tickFormat(fmtX))
    .call(s => styleAxis(s, 14.5)).call(s => fitLastLabel(s, o.lastShift));
  g.append("g").attr("transform", `translate(0,${o.top})`)
    .call(d3.axisTop(x).tickValues(tauTicks).tickSize(-4).tickFormat(() => ""))
    .call(s => styleAxis(s, 14.5));
  g.append("g").attr("transform", `translate(${o.left},0)`)
    .call(d3.axisLeft(y).tickValues(cdfYTicks).tickSize(-4).tickPadding(5).tickFormat(d3.format("~g")))
    .call(s => styleAxis(s, 14.5));
  g.append("g").attr("transform", `translate(${o.right},0)`)
    .call(d3.axisRight(y).tickValues(cdfYTicks).tickSize(-4).tickFormat(() => ""))
    .call(s => styleAxis(s, 14.5));
  g.append("rect").attr("x", o.left).attr("y", o.top).attr("width", o.right - o.left)
    .attr("height", o.bottom - o.top).attr("fill", "none").attr("stroke", ink).attr("stroke-width", 1.3);

  g.append("text").attr("transform", `translate(${o.left - 32},${(o.top + o.bottom) / 2 - 10}) rotate(-90)`)
    .attr("text-anchor", "middle").attr("font-size", 17).text("F(Δ)");
  const xl = g.append("text").attr("x", (o.left + o.right) / 2 + 7).attr("y", 584).attr("text-anchor", "middle");
  xl.append("tspan").attr("font-size", 18).text("Δ");
  xl.append("tspan").attr("font-size", 14).text(" [ms]");
}

// ---------- Panel B, left: excitatory ----------
svg.append("text").attr("x", 91.5).attr("y", 364.5).attr("font-size", 20.7)
  .text("Excitatory signaling input arrives at τ = 0");
mainPanel({
  left: 111, right: 470.5, top: 389, bottom: 747,
  xDomain: [0, 200], yDomain: [0, 0.0506], unit: 1e-4, lastShift: 0,
  noiseDots: excSimNoise, signalDots: excSimSignal, fit: excFit, baseline: excBaseline,
  yTicks: excYTicks, yPad: 11, yFmt: d => (d === 0 ? "0" : d3.format(".2f")(d))
});
svg.append("text").attr("transform", "translate(42,566) rotate(-90)").attr("text-anchor", "middle")
  .attr("font-size", 19).text("f ( τ )");
insetPanel({ left: 308, right: 462, top: 399, bottom: 543, yMax: 1.012, lastShift: 0,
  sim: excCdfSim, fit: excCdfFit, noise: excCdfNoise });

// ---------- Panel B, right: inhibitory ----------
const sc = svg.append("text").attr("x", 565).attr("y", 368).attr("font-size", 14);
sc.append("tspan").text("x10");
sc.append("tspan").attr("font-size", 11).attr("dy", -9).text("-2");
svg.append("text").attr("x", 606.5).attr("y", 368).attr("font-size", 20.5)
  .text("Inhibitory signaling input arrives at τ = 0");
mainPanel({
  left: 594, right: 965, top: 388, bottom: 747,
  xDomain: [-4.5, 204], yDomain: [0, 1.6], unit: 1e-2, lastShift: 7,
  noiseDots: inhSimNoise, signalDots: inhSimSignal, fit: inhFit, baseline: inhBaseline,
  yTicks: inhYTicks, yPad: 6, yFmt: d => (d === 0 ? "0" : d3.format(".1f")(d))
});
insetPanel({ left: 804, right: 959, top: 403, bottom: 543, yMax: 1.0, lastShift: 4,
  sim: inhCdfSim, fit: inhCdfFit, noise: inhCdfNoise });
</script>
</body>
</html>
